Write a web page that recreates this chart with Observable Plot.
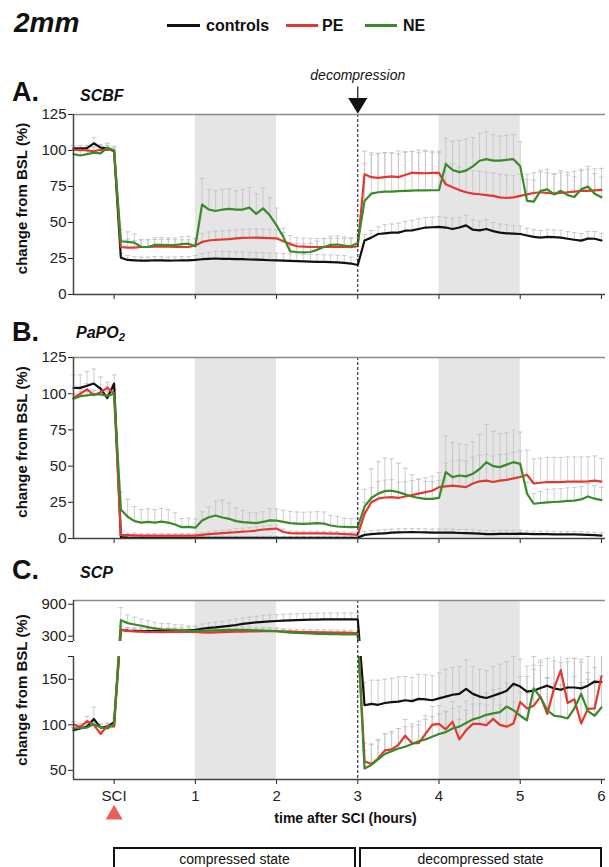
<!DOCTYPE html>
<html><head><meta charset="utf-8">
<script src="https://cdn.jsdelivr.net/npm/d3@7"></script>
<script src="https://cdn.jsdelivr.net/npm/@observablehq/plot@0.6"></script>
<style>
body{margin:0;background:#fff;}
#root{position:relative;width:609px;height:867px;overflow:hidden;background:#fff;font-family:"Liberation Sans",Arial,Helvetica,sans-serif;color:#111;}
.abs{position:absolute;white-space:nowrap;line-height:1;}
.panel{position:absolute;left:0;}
.box{position:absolute;top:847px;height:30px;border:2px solid #111;box-sizing:border-box;text-align:center;font-size:14px;line-height:16px;padding-top:1.5px;}
sub{font-size:0.7em;vertical-align:-0.25em;}
</style></head><body>
<div id="root"></div>
<script>
// ---------- shared categories ----------
const minutes = [-30,-25,-20,-15,-10,-5,0,
  5,10,15,20,25,30,35,40,45,50,55,60,
  65,70,75,80,85,90,95,100,105,110,115,120,
  125,130,135,140,145,150,155,160,165,170,175,180,
  185,190,195,200,205,210,215,220,225,230,235,240,
  245,250,255,260,265,270,275,280,285,290,295,300,
  305,310,315,320,325,330,335,340,345,350,355,360];
const seriesNames = ["controls","PE","NE"];
const seriesColors = ["#111111","#e5362f","#3a8a2a"];
const xTicks = [0,1,2,3,4,5,6];
const xTickLabels = ["SCI","1","2","3","4","5","6"];
const bandStart = [1,4];
const bandEnd = [2,5];
const decompressionHour = 3;
const sciHour = 0;
const stateNames = ["compressed state","decompressed state"];

// ---------- A. SCBF ----------
const scbfCtrl = [101.5,101.5,101.7,105,102,101.5,99.5,
  25.5,24,23.7,23.5,23.5,23.8,23.7,23.5,23.6,23.8,23.7,24,
  24.5,24.8,25,24.8,24.8,24.6,24.5,24.3,24.2,24,23.8,23.7,
  23.5,23.3,23.2,23,22.8,22.7,22.6,22.5,22.3,22,21.5,20.5,
  37.5,39.5,42,42.5,43,43,44.3,44.5,45.5,46.5,46.7,47,
  46.5,45.5,46.5,48,45,44.5,45.5,44,43,42.5,42.3,42,
  41,40,39.5,40,39.8,39.5,38.7,38,37.4,38.8,38.7,37.5];
const scbfPE = [100.5,100.5,100,99.5,100.5,100.5,100,
  33,32.5,32.5,33,33,33.2,33.3,33.2,33,33,33,34,
  36.5,37.5,38,38.2,38.5,39,39.3,39.4,39.5,39.3,39.2,39,
  37,35,33.5,33.2,33,33,33,33,33,33,32.8,33.5,
  83.5,81.5,81,81.5,82,81.5,83,84.5,84.3,84.2,84.5,84.5,
  76.5,74.5,72.5,71,70,69.6,69,68.5,67.5,67,67.5,68.5,
  69.5,70.5,71,70.5,70,70.5,71,71.5,72,72,72.3,72.6];
const scbfNE = [97.5,96.5,97.5,98.5,98,102,100,
  37,36.5,36,33,33,34.5,34.5,34.3,34.3,35,35.3,33.5,
  62.5,59,58,59,59.5,59,59,60.3,56,59.8,55,48,
  40,30,29.5,29.2,29.5,31,33,34.5,34.7,34,33.5,36,
  65,70,71,71.5,71.5,71.8,72,72.2,72.4,72.3,72.4,72.4,
  90.5,86.5,85,86,89,92.9,94,93,93,93.5,94,89,
  65,64.5,72,73,69.5,72,69,67.7,73,75,70,67.5];
const scbfCtrlSD = [2,2,2,4,2,2,1,
  3,3,2.5,2.5,2.5,2.5,2.5,2.5,2.5,2.5,2.5,3,
  4,4.5,5,5,5,5,5,5,5,5,5,5,
  5,5,5,5,5,5,5,5,5,5,4.5,4,
  4,5,5,6,6,6.5,6.5,7,7,7,7,7,
  7,7.5,7,7,7,6.5,6.5,6,6,6,5.5,5.5,
  5,5,5,5,5,5,5,5,5,5,5,5];
const scbfPESD = [3,3,3,3,3,3,2,
  5,6,5,5,5,5,5,5,5,5,5,5,
  6,6,6,6,6,6,6,6,6,6,6,6,
  6,6,6,6,6,6,6,6,6,6,6,6,
  16,17,17,17,16,16,16,15,16,16,15,15,
  15,16,16,16,16,16,16,16,16,16,15,15,
  14,14,14,14,14,14,14,14,14,15,15,15];
const scbfNESD = [3,3,3,4,4,3,3,
  8,7,6,5,5,5,5,5,5,5,5,5,
  18,14,14,14,14,13,14,14,14,14,12,12,
  6,6,6,6,6,6,6,6,6,6,6,6,
  26,27,27,27,27,28,27,27,26,27,26,26,
  18,20,22,22,20,19,19,18,17,17,17,17,
  15,15,14,14,14,14,14,14,14,14,14,14];
const scbfTicks = [0,25,50,75,100,125];

// ---------- B. PaPO2 ----------
const papoCtrl = [104,104,105.5,107,103.5,97,107,
  1,0.6,0.5,0.5,0.5,0.5,0.5,0.5,0.5,0.5,0.5,0.5,
  0.5,0.5,0.5,0.5,0.5,0.5,0.5,0.5,0.5,0.5,0.5,0.5,
  0.5,0.5,0.5,0.5,0.5,0.5,0.5,0.5,0.5,0.5,0.5,0.6,
  2.5,3,3.3,3.6,4,4.2,4.3,4.4,4.3,4.2,4.1,4,
  4,4,3.8,3.7,3.5,3.3,3,3,3.2,3.2,3.2,3.3,
  3.2,3,3,3,2.9,2.9,2.9,2.8,2.7,2.5,2.3,2];
const papoPE = [97,100,103,99,101,104,100,
  2.5,2.3,2.2,2,2,2,2,2,2,2,2,2,
  2.5,3,3.3,3.7,4,4.3,4.7,5,5.5,6.2,6.5,6.9,
  4.5,3.7,3.6,3.6,3.6,3.5,3.5,3.4,3.3,3,2.8,2.5,
  17,25,27.5,28.3,28.6,28,29,30,31,32,33,35.5,
  36,36.5,36,35.5,38,39.5,40,39,40,40.5,41.5,42.5,
  44,38,38.5,39,39,39,39.3,39.3,39.3,39.5,40,39.3];
const papoNE = [96.5,98.3,98.8,99.5,99.5,98.5,100,
  20,15,12,11,11.5,11,11.7,11,9.7,7.8,8,7.5,
  12.5,14.7,15.9,14.5,13.6,12,11.3,11,10.6,11.5,12.5,12.3,
  11.5,10.6,10.3,10.1,10.3,10.6,10.3,9,8.3,8,7.8,8,
  22,28,31,32.7,33,32,30.5,29,28,27.4,27.4,28,
  45.9,42.4,43.5,42.9,44.7,48,52.7,50,49.3,51,52.7,51.5,
  31,24,24.5,25,25.2,25.5,26,26.2,27,29,27.5,26.5];
const papoCtrlSD = [9,9,10,10,8,8,6,
  1,1,1,1,1,1,1,1,1,1,1,1,
  1,1,1,1,1,1,1,1,1,1,1,1,
  1,1,1,1,1,1,1,1,1,1,1,1,
  2.5,2.5,2.5,2.5,2.5,2.5,2.5,2.5,2.5,2.5,2.5,2.5,
  2.5,2.5,2.5,2.5,2.5,2.5,2.5,2.5,2.5,2.5,2.5,2.5,
  2,2,2,2,2,2,2,2,2,2,2,2];
const papoPESD = [3,3,4,3,3,4,3,
  1.5,1.5,1.5,1.5,1.5,1.5,1.5,1.5,1.5,1.5,1.5,1.5,
  1.5,1.5,2,2,2,2.5,2.5,2.5,2.5,2.5,2.5,2.5,
  2,1.5,1.5,1.5,1.5,1.5,1.5,1.5,1.5,1.5,1.5,1.5,
  8,10,12,12,12,11,10,10,10,10,10,10,
  16,17,18,18,18,18,18,18,18,18,18,18,
  17,17,17,17,17,17,17,17,17,17,17,16];
const papoNESD = [3,3,3,3,3,3,3,
  12,12,10,9,9,9,9,9,8,6,6,6,
  6,7,10,12,11,9,8,7,7,7,8,8,
  8,8,8,8,8,8,8,7,7,6,6,6,
  12,20,22,23,22,20,18,15,13,12,12,12,
  25,24,22,22,22,24,26,24,23,22,22,22,
  8,7,8,9,9,9,9,9,9,9,9,9];
const papoTicks = [0,25,50,75,100,125];

// ---------- C. SCP (broken axis) ----------
const scpCtrl = [94,96,98,106.5,97,98,103,
  420,405,400,395,395,395,395,395,395,400,410,420,
  440,455,465,480,495,510,530,545,560,570,578,585,
  592,598,602,606,610,612,614,616,617,617,616,615,
  121.5,123,122,124,125,125.5,127,126,128.5,128,127,129,
  131,133,134,139.5,134,131,129.5,132,134.5,137.5,145,142,
  136.5,137.5,140.5,143,140,138.5,141,141,140,143,147.5,147];
const scpPE = [100.5,97.5,104,100,90,99,98,
  425,400,390,385,380,378,376,378,380,382,383,380,
  370,365,370,375,380,383,385,388,392,395,395,393,
  390,385,380,378,375,372,370,368,366,365,363,360,
  60,57,63,72,73,78,88,80,80,90,100,101,
  95,103.5,84,94,101,101,99.5,106.5,100,98,101.5,125,
  118,121,131,112,140,160,124,128,101.5,117.5,118,153];
const scpNE = [96,96.5,97,100.5,97.5,96,101,
  600,545,520,495,470,445,430,425,420,415,405,400,
  400,405,410,415,418,420,420,415,410,405,400,395,
  380,365,360,355,350,345,342,340,338,335,333,332,
  52,56,62,68,71,74,76,79,82,84,87,90,
  92,96,98,102,106,108,111,112.5,114,120,116,110,
  105,140,130,116,110,109,107,118,134,115,110,119];
const scpCtrlSD = [3,3,4,13,4,4,4,
  60,60,60,60,60,60,60,60,60,60,60,60,
  90,95,100,100,105,110,110,115,115,120,120,120,
  120,120,120,120,120,120,120,120,120,120,120,120,
  25,26,27,26,26,27,26,26,27,27,27,28,
  30,30,30,32,30,30,30,32,32,32,30,30,
  28,28,28,30,30,30,32,32,32,32,30,30];
const scpPESD = [3,4,5,3,4,3,3,
  60,50,50,50,50,50,50,50,50,50,50,50,
  50,50,50,50,50,50,50,50,50,50,50,50,
  50,50,50,50,50,50,50,50,50,50,50,50,
  20,22,20,18,18,18,18,18,20,20,20,20,
  20,22,22,22,22,22,22,22,22,22,24,28,
  35,40,40,40,45,30,45,45,45,40,45,30];
const scpNESD = [3,3,3,3,3,3,3,
  236,155,140,127,120,115,110,110,100,95,90,90,
  60,60,60,60,60,60,60,60,60,60,60,60,
  40,40,40,40,40,40,40,40,40,40,40,40,
  20,22,22,22,22,22,22,22,22,22,22,22,
  22,22,22,24,24,24,24,26,26,26,26,26,
  30,35,35,35,35,35,35,35,35,35,35,35];
const scpLowerDomain = [40,175];
const scpUpperDomain = [200,970];
const scpTicks = [50,100,150,175,200,300,900];
const scpTickLabels = [50,100,150,300,900];
// broken-axis layout: how many pixels each segment occupies (lower, gap, upper)
const scpSegmentPx = [123,15,41];

// ---------- drawing ----------
const hours = minutes.map(m => m / 60);
const xDomain = [-0.5, 6.05];
const BAND = "#e5e5e5", ERR = "#c2c2c2";
const yLabel = "change from BSL (%)";
const xLabel = "time after SCI (hours)";
const capSymbol = {draw(ctx){ctx.moveTo(-2.5,0);ctx.lineTo(2.5,0);}};
const arrowSymbol = {draw(ctx){ctx.moveTo(0,0);ctx.lineTo(-8.5,-14);ctx.lineTo(8.5,-14);ctx.closePath();ctx.moveTo(0,-14);ctx.lineTo(0,-26);}};

function panel(o) {
  const yT = o.transform || (v => v);
  const yMin = o.yDomain[0], yMax = o.yDomain[o.yDomain.length - 1];
  const groups = o.values.map((vals, k) => vals.map((v, i) => ({t: hours[i], v, top: v + o.sds[k][i]})));
  const bands = bandStart.map((s, i) => ({x1: s, x2: bandEnd[i]}));
  const marks = [Plot.rect(bands, {x1: "x1", x2: "x2", fill: BAND})];
  groups.forEach(g => {
    marks.push(Plot.ruleX(g, {x: "t", y1: "v", y2: "top", stroke: ERR, strokeWidth: 0.8}));
    marks.push(Plot.dot(g, {x: "t", y: "top", symbol: capSymbol, stroke: ERR, strokeWidth: 0.8, fill: "none"}));
  });
  groups.forEach((g, k) => marks.push(Plot.line(g, {x: "t", y: "v", stroke: seriesColors[k], strokeWidth: 2.2, strokeLinejoin: "round"})));
  if (o.gap) {
    marks.push(Plot.rect([o.gap], {y1: d => d[0], y2: d => d[1], fill: "#fff"}));
    marks.push(Plot.rect(bands, {x1: "x1", x2: "x2", y1: () => o.gap[0], y2: () => o.gap[1], fill: BAND}));
  }
  marks.push(Plot.ruleX([decompressionHour], {stroke: "#111", strokeWidth: 1, strokeDasharray: "3,2"}));
  marks.push(Plot.ruleY([yMax], {stroke: "#8a8a8a", strokeWidth: 1.5}));
  marks.push(Plot.ruleY([yMin], {stroke: "#444", strokeWidth: 1.5}));
  if (o.axisSegments) marks.push(Plot.ruleX(o.axisSegments, {x: () => xDomain[0], y1: d => d[0], y2: d => d[1], stroke: "#444", strokeWidth: 1.5}));
  else marks.push(Plot.ruleX([xDomain[0]], {stroke: "#444", strokeWidth: 1.5}));
  marks.push(Plot.text([yLabel], {frameAnchor: "left", textAnchor: "middle", lineAnchor: "middle", rotate: -90, dx: -51, dy: o.labelDy, fontWeight: "bold", fontSize: 15, fill: "#111"}));
  (o.extra || []).forEach(m => marks.push(m));
  const shown = o.shownTicks || o.yTicks;
  const tickT = o.yTicks.map(yT);
  return Plot.plot({
    width: 609, height: o.height,
    marginLeft: 73, marginRight: 4, marginTop: o.marginTop, marginBottom: o.marginBottom,
    style: {fontFamily: "'Liberation Sans', Arial, sans-serif", fontSize: "15px", color: "#222", background: "transparent", overflow: "visible"},
    x: {domain: xDomain, ticks: xTicks, tickSize: 5, tickPadding: 6, label: null,
        tickFormat: o.xLabels ? (d => xTickLabels[xTicks.indexOf(d)]) : (() => "")},
    y: {domain: [yT(yMin), yT(yMax)], transform: o.transform, ticks: tickT, tickSize: 5, tickPadding: 2, label: null,
        tickFormat: t => { const i = tickT.findIndex(u => Math.abs(u - t) < 1e-6); return i >= 0 && shown.includes(o.yTicks[i]) ? String(o.yTicks[i]) : ""; }},
    marks
  });
}

const root = document.getElementById("root");
function addDiv(html, style, cls = "abs") {
  const d = document.createElement("div");
  d.className = cls; d.innerHTML = html; d.setAttribute("style", style);
  root.appendChild(d); return d;
}

// header + legend
addDiv("2mm", "left:14px;top:9px;font-size:28px;font-weight:bold;font-style:italic;");
const legendLines = [[167,33],[286,32],[365,32]];
const legendText = [206,322,403];
seriesNames.forEach((n, i) => {
  addDiv("", `left:${legendLines[i][0]}px;top:23.5px;width:${legendLines[i][1]}px;height:3px;background:${seriesColors[i]};`);
  addDiv(n, `left:${legendText[i]}px;top:17.5px;font-size:16px;font-weight:bold;`);
});

// panel headings
const panelLetters = ["A.","B.","C."];
const panelTitles = ["SCBF","PaPO<sub>2</sub>","SCP"];
const letterTops = [78.8, 318.8, 556.8];
const titleTops = [87.7, 325.2, 564.7];
const titleLefts = [80, 76, 80];
panelLetters.forEach((l, i) => {
  addDiv(l, `left:12px;top:${letterTops[i]}px;font-size:27px;font-weight:bold;`);
  addDiv(panelTitles[i], `left:${titleLefts[i]}px;top:${titleTops[i]}px;font-size:16px;font-weight:bold;font-style:italic;`);
});

// Panel A
const pA = panel({
  values: [scbfCtrl, scbfPE, scbfNE], sds: [scbfCtrlSD, scbfPESD, scbfNESD],
  yDomain: [0,125], yTicks: scbfTicks, height: 246, marginTop: 54, marginBottom: 12, labelDy: -6,
  extra: [
    Plot.text([decompressionHour], {x: d => d, text: () => "decompression", frameAnchor: "top", lineAnchor: "middle", dy: -39, fontStyle: "italic", fontSize: 14, fill: "#111"}),
    Plot.dot([decompressionHour], {x: d => d, frameAnchor: "top", dy: -2, symbol: arrowSymbol, fill: "#111", stroke: "#111", strokeWidth: 1.2})
  ]
});
const dA = addDiv("", "top:60px;", "panel"); dA.appendChild(pA);

// Panel B
const pB = panel({
  values: [papoCtrl, papoPE, papoNE], sds: [papoCtrlSD, papoPESD, papoNESD],
  yDomain: [0,125], yTicks: papoTicks, height: 210, marginTop: 17, marginBottom: 12, labelDy: -6
});
const dB = addDiv("", "top:340px;", "panel"); dB.appendChild(pB);

// Panel C: piecewise (broken) value axis
const segEdges = [0, scpSegmentPx[0], scpSegmentPx[0] + scpSegmentPx[1], scpSegmentPx[0] + scpSegmentPx[1] + scpSegmentPx[2]];
const scpBreak = d3.scaleLinear()
  .domain([scpLowerDomain[0], scpLowerDomain[1], scpUpperDomain[0], scpUpperDomain[1]])
  .range(segEdges);
const pC = panel({
  values: [scpCtrl, scpPE, scpNE], sds: [scpCtrlSD, scpPESD, scpNESD],
  yDomain: [scpLowerDomain[0], scpUpperDomain[1]],
  transform: v => scpBreak(v),
  yTicks: scpTicks, shownTicks: scpTickLabels,
  height: 246, marginTop: 15, marginBottom: 52, labelDy: 0,
  gap: [scpLowerDomain[1], scpUpperDomain[0]],
  axisSegments: [scpLowerDomain, scpUpperDomain],
  xLabels: true,
  extra: [
    Plot.dot([sciHour], {x: d => d, frameAnchor: "bottom", dy: 35, symbol: "triangle", r: 6.3, fill: "#e8605a", stroke: "none"}),
    Plot.text([xLabel], {frameAnchor: "bottom", lineAnchor: "middle", dy: 39.5, dx: 6, fontWeight: "bold", fontSize: 14, fill: "#111"})
  ]
});
const dC = addDiv("", "top:585px;", "panel"); dC.appendChild(pC);

// state boxes
const boxLefts = [113, 359];
stateNames.forEach((s, i) => {
  addDiv(s, `left:${boxLefts[i]}px;width:243px;`, "box");
});
</script>
</body></html>
